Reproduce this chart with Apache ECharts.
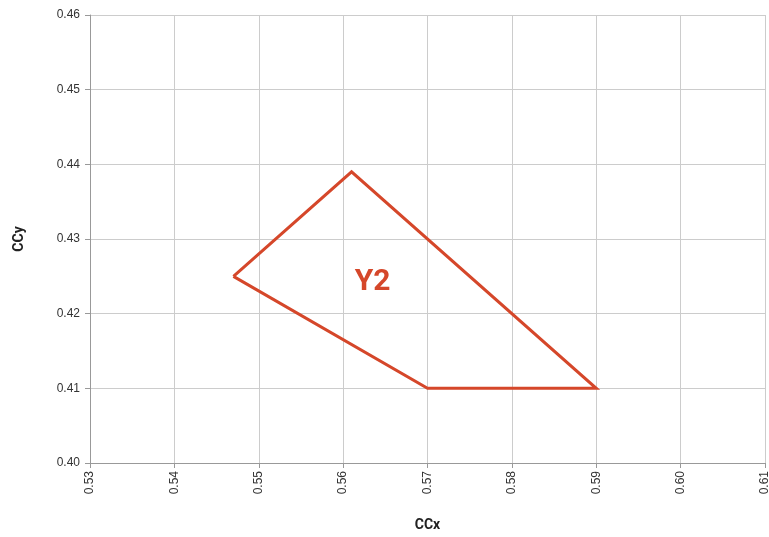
<!DOCTYPE html>
<html>
<head>
<meta charset="utf-8">
<script src="https://cdn.jsdelivr.net/npm/echarts@6/dist/echarts.min.js"></script>
<style>
  html, body { margin: 0; padding: 0; background: #fff; }
  #chart { width: 769px; height: 537px; }
</style>
</head>
<body>
<div id="chart"></div>
<script>
// Chromaticity region outline (CCx, CCy), closed polygon
const regionName = 'Y2';
const ccx = [0.547, 0.561, 0.590, 0.570, 0.547];
const ccy = [0.425, 0.439, 0.410, 0.410, 0.425];
// Where the region name is written
const labelPos = [0.5635, 0.4242];

const xRange = { min: 0.53, max: 0.61, step: 0.01 };
const yRange = { min: 0.40, max: 0.46, step: 0.01 };

const lineColor = '#d5472a';
const points = ccx.map((x, i) => [x, ccy[i]]);

const chart = echarts.init(document.getElementById('chart'), null, { renderer: 'canvas' });
chart.setOption({
  animation: false,
  backgroundColor: '#ffffff',
  grid: { left: 90, right: 4, top: 15, bottom: 74, containLabel: false, outerBoundsMode: 'none' },
  xAxis: {
    type: 'value',
    min: xRange.min, max: xRange.max, interval: xRange.step,
    name: 'CCx', nameLocation: 'middle', nameGap: 55,
    nameTextStyle: { fontFamily: 'Roboto', fontWeight: 'bold', fontSize: 14, color: '#222' },
    axisLine: { show: true, lineStyle: { color: '#999', width: 1 } },
    axisTick: { show: true, length: 5, lineStyle: { color: '#999' } },
    axisLabel: {
      rotate: 90, margin: 8, fontFamily: 'Liberation Sans', fontSize: 12, color: '#333',
      formatter: v => v.toFixed(2)
    },
    splitLine: { show: true, lineStyle: { color: '#cccccc', width: 1 } }
  },
  yAxis: {
    type: 'value',
    min: yRange.min, max: yRange.max, interval: yRange.step,
    name: 'CCy', nameLocation: 'middle', nameGap: 64, nameRotate: 90,
    nameTextStyle: { fontFamily: 'Roboto', fontWeight: 'bold', fontSize: 14, color: '#222' },
    axisLine: { show: true, lineStyle: { color: '#999', width: 1 } },
    axisTick: { show: true, length: 5, lineStyle: { color: '#999' } },
    axisLabel: {
      margin: 10, fontFamily: 'Liberation Sans', fontSize: 12, color: '#333',
      formatter: v => v.toFixed(2)
    },
    splitLine: { show: true, lineStyle: { color: '#cccccc', width: 1 } }
  },
  series: [
    {
      type: 'line',
      data: points,
      showSymbol: false,
      symbol: 'none',
      lineStyle: { color: lineColor, width: 3, join: 'miter' },
      z: 3
    },
    {
      type: 'scatter',
      data: [labelPos],
      symbolSize: 0,
      itemStyle: { opacity: 1 },
      label: {
        show: true, position: 'inside', formatter: regionName,
        fontFamily: 'Roboto', fontWeight: 'bold', fontSize: 30, color: lineColor, opacity: 1
      },
      z: 4
    }
  ]
});
</script>
</body>
</html>
